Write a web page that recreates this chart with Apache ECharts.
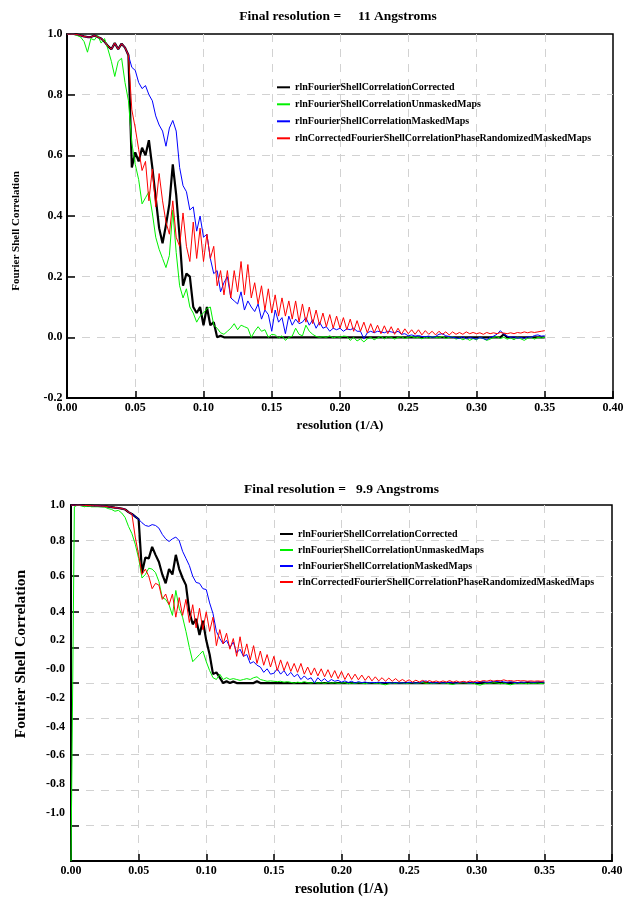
<!DOCTYPE html>
<html><head><meta charset="utf-8">
<script src="https://cdn.jsdelivr.net/npm/echarts@6/dist/echarts.min.js"></script>
<style>
html,body{margin:0;padding:0;background:#fff;width:628px;height:901px;overflow:hidden}
#c1{position:absolute;left:0;top:0;width:628px;height:450px}
#c2{position:absolute;left:0;top:450px;width:628px;height:451px}
</style>
</head><body><div id="c1"></div><div id="c2"></div>
<script>
// ---------- DATA ----------
const resolution = [
0,0.0025,0.005,0.0075,0.01,0.0125,0.015,0.0175,0.02,0.0225,
0.025,0.0275,0.03,0.0325,0.035,0.0375,0.04,0.0425,0.045,0.0475,
0.05,0.0525,0.055,0.0575,0.06,0.0625,0.065,0.0675,0.07,0.0725,
0.075,0.0775,0.08,0.0825,0.085,0.0875,0.09,0.0925,0.095,0.0975,
0.1,0.1025,0.105,0.1075,0.11,0.1125,0.115,0.1175,0.12,0.1225,
0.125,0.1275,0.13,0.1325,0.135,0.1375,0.14,0.1425,0.145,0.1475,
0.15,0.1525,0.155,0.1575,0.16,0.1625,0.165,0.1675,0.17,0.1725,
0.175,0.1775,0.18,0.1825,0.185,0.1875,0.19,0.1925,0.195,0.1975,
0.2,0.2025,0.205,0.2075,0.21,0.2125,0.215,0.2175,0.22,0.2225,
0.225,0.2275,0.23,0.2325,0.235,0.2375,0.24,0.2425,0.245,0.2475,
0.25,0.2525,0.255,0.2575,0.26,0.2625,0.265,0.2675,0.27,0.2725,
0.275,0.2775,0.28,0.2825,0.285,0.2875,0.29,0.2925,0.295,0.2975,
0.3,0.3025,0.305,0.3075,0.31,0.3125,0.315,0.3175,0.32,0.3225,
0.325,0.3275,0.33,0.3325,0.335,0.3375,0.34,0.3425,0.345,0.3475,
0.35];

const seriesNames = [
  'rlnFourierShellCorrelationCorrected',
  'rlnFourierShellCorrelationUnmaskedMaps',
  'rlnFourierShellCorrelationMaskedMaps',
  'rlnCorrectedFourierShellCorrelationPhaseRandomizedMaskedMaps'
];

const title1 = 'Final resolution =     11 Angstroms';
const title2 = 'Final resolution =   9.9 Angstroms';

// Top chart
const correctedTop = [
1.0,1.0,1.0,0.998,0.995,0.992,0.99,0.99,0.995,0.99,
0.985,0.975,0.96,0.95,0.97,0.95,0.968,0.955,0.93,0.56,
0.61,0.58,0.625,0.6,0.65,0.56,0.46,0.36,0.31,0.37,
0.44,0.57,0.47,0.33,0.17,0.21,0.2,0.1,0.08,0.1,
0.04,0.1,0.04,0.05,0.0,0.005,0,0,0,0,
0,0,0,0,0,0,0,0,0,0,
0,0,0,0,0,0,0,0,0,0,
0,0,0,0,0,0,0,0,0,0,
0,0,0,0,0,0,0,0,0,0,
0,0,0,0,0,0,0,0,0,0,
0,0,0,0,0,0,0,0,0,0,
0,0,0,0,0,0,0,0,0,0,
0,0,0,0,0,0,0,0,0.01,0,
0,0,0,0,0,0,0,0,0,0,
0];
const unmaskedTop = [
1.0,1.0,1.0,0.995,0.99,0.975,0.94,0.985,0.98,0.995,
0.97,0.985,0.95,0.91,0.86,0.91,0.92,0.84,0.78,0.64,
0.57,0.52,0.44,0.46,0.48,0.41,0.33,0.29,0.26,0.23,
0.27,0.42,0.28,0.17,0.13,0.16,0.1,0.08,0.05,0.07,
0.08,0.095,0.1,0.04,0.03,0.015,0.01,0.02,0.03,0.045,
0.025,0.04,0.035,0.03,0.0,0.02,0.035,0.02,0.025,0.0,
0.01,0.008,-0.002,0.005,-0.01,0.0,0.004,0.03,0.01,0.005,
0.04,0.02,0.01,0.003,0.0,0.002,0.0,0.005,-0.002,0.002,
0.0,0.004,0.003,-0.01,0.0,-0.012,-0.005,-0.015,-0.005,0.0,
-0.008,-0.002,0.003,-0.005,0.002,0.0,-0.006,0.0,0.002,-0.004,
0.0,0.003,-0.002,0.0,-0.005,0.001,-0.003,0.002,0.0,-0.002,
0.003,-0.004,0.0,0.002,-0.006,-0.002,-0.008,-0.003,-0.01,-0.004,
-0.008,0.0,-0.004,-0.01,-0.006,0.0,0.002,-0.004,0.0,-0.006,
-0.002,-0.008,0.0,-0.005,-0.01,-0.003,0.0,-0.006,0.0,-0.002,
0.0];
const maskedTop = [
1.0,1.0,1.0,0.998,0.995,0.992,0.99,0.99,0.995,0.99,
0.985,0.975,0.96,0.95,0.97,0.95,0.968,0.955,0.93,0.89,
0.88,0.84,0.82,0.83,0.8,0.78,0.73,0.7,0.68,0.63,
0.69,0.715,0.68,0.56,0.5,0.48,0.42,0.43,0.35,0.4,
0.33,0.34,0.26,0.21,0.22,0.15,0.18,0.2,0.13,0.12,
0.11,0.15,0.09,0.12,0.1,0.085,0.11,0.06,0.09,0.075,
0.02,0.09,0.05,0.065,0.012,0.07,0.04,0.06,0.045,0.05,
0.065,0.04,0.058,0.03,0.05,0.03,0.035,0.02,0.03,0.025,
0.03,0.02,0.028,0.025,0.03,0.02,0.02,-0.005,0.015,0.02,
0.015,0.02,0.018,0.015,0.02,0.018,0.015,0.02,0.01,0.012,
0.005,0.008,0.004,0.006,0.003,0.002,0.004,0.0,0.003,0.01,
0.012,0.005,0.003,0.0,-0.002,-0.004,0.002,-0.005,0.0,-0.003,
-0.006,0.0,-0.004,-0.008,0.0,0.004,0.01,0.022,0.01,0.004,
0.0,0.002,-0.003,0.0,-0.004,0.002,0.0,0.006,0.008,0.004,
0.005];
const phaseRandTop = [
1.0,1.0,1.0,0.998,0.995,0.992,0.99,0.99,0.995,0.99,
0.985,0.975,0.96,0.95,0.97,0.95,0.968,0.955,0.93,0.75,
0.69,0.62,0.55,0.58,0.45,0.555,0.43,0.54,0.45,0.38,
0.34,0.45,0.33,0.3,0.41,0.3,0.25,0.38,0.26,0.36,
0.25,0.34,0.26,0.3,0.17,0.22,0.14,0.22,0.13,0.22,
0.15,0.25,0.14,0.24,0.13,0.18,0.11,0.17,0.09,0.16,
0.08,0.14,0.07,0.13,0.07,0.12,0.06,0.12,0.05,0.11,
0.05,0.1,0.045,0.09,0.04,0.08,0.035,0.075,0.03,0.07,
0.03,0.065,0.025,0.06,0.02,0.055,0.02,0.05,0.015,0.045,
0.015,0.04,0.012,0.038,0.012,0.035,0.01,0.03,0.01,0.028,
0.012,0.025,0.01,0.025,0.008,0.022,0.01,0.02,0.008,0.02,
0.01,0.018,0.008,0.018,0.01,0.016,0.01,0.018,0.012,0.016,
0.012,0.015,0.01,0.016,0.012,0.015,0.012,0.016,0.014,0.012,
0.015,0.012,0.016,0.014,0.018,0.015,0.018,0.016,0.018,0.02,
0.022];

// Bottom chart
const correctedBot = [
1.0,1.0,1.0,1.0,0.998,0.997,0.996,0.995,0.995,0.994,
0.993,0.99,0.988,0.985,0.983,0.98,0.975,0.96,0.95,0.935,
0.92,0.62,0.705,0.7,0.765,0.72,0.68,0.61,0.56,0.64,
0.61,0.72,0.64,0.59,0.55,0.4,0.33,0.36,0.27,0.35,
0.24,0.16,0.05,0.06,0.03,0.0,0.01,0.0,0.008,0.0,
0,0,0,0,0,0.01,0,0,0,0,
0,0,0,0,0,0,0,0,0,0,
0,0,0,0,0,0,0,0,0,0,
0,0,0,0,0,0,0,0,0,0,
0,0,0,0,0,0,0,0,0,0,
0,0,0,0,0,0,0,0,0,0,
0,0,0,0,0,0,0,0,0,0,
0,0,0,0,0,0,0,0,0,0,
0,0,0,0,0,0,0,0,0,0,
0];
const unmaskedBot = [
-1.0,0.99,1.0,0.995,0.99,0.995,0.99,0.99,0.99,0.99,
0.988,0.98,0.975,0.965,0.97,0.955,0.93,0.88,0.84,0.78,
0.7,0.59,0.61,0.645,0.64,0.62,0.57,0.48,0.47,0.44,
0.38,0.52,0.42,0.37,0.29,0.2,0.12,0.14,0.16,0.18,
0.12,0.07,0.03,0.02,0.05,0.02,0.03,0.02,0.025,0.02,
0.015,0.02,0.025,0.02,0.03,0.035,0.02,0.015,0.01,0.012,
0.01,0.008,0.01,0.005,0.008,0.004,0.0,0.005,0.002,0.008,
0.002,0.0,0.004,0.0,0.002,-0.002,0.003,0.0,0.002,-0.002,
0.0,0.002,-0.004,0.0,-0.002,0.002,0.0,-0.004,0.0,0.002,
-0.002,0.0,-0.006,-0.01,-0.004,0.0,-0.002,0.002,0.0,-0.003,
0.0,0.002,-0.002,0.0,0.003,-0.002,0.0,-0.003,0.0,0.002,
-0.002,0.0,-0.005,-0.008,-0.002,0.0,0.002,0.0,-0.003,0.0,
-0.008,-0.012,-0.005,0.0,-0.002,0.002,0.0,-0.004,0.0,-0.006,
-0.01,-0.004,0.0,-0.002,0.0,-0.004,0.0,-0.002,0.0,-0.003,
0.0];
const maskedBot = [
1.0,1.0,1.0,1.0,0.998,0.997,0.996,0.995,0.995,0.994,
0.993,0.99,0.988,0.985,0.983,0.98,0.975,0.96,0.95,0.935,
0.92,0.9,0.885,0.88,0.89,0.885,0.87,0.835,0.81,0.795,
0.81,0.82,0.8,0.74,0.7,0.66,0.6,0.565,0.56,0.53,
0.525,0.45,0.39,0.29,0.25,0.22,0.24,0.2,0.23,0.17,
0.19,0.15,0.16,0.11,0.12,0.1,0.09,0.06,0.08,0.05,
0.055,0.08,0.05,0.07,0.04,0.06,0.035,0.05,0.02,0.04,
0.02,0.03,0.0,0.03,0.01,0.025,0.005,0.02,0.01,0.015,
0.005,0.012,0.003,0.01,0.0,0.008,0.002,0.006,0.0,0.004,
0.002,0.005,0.0,0.004,0.002,0.0,0.003,0.0,0.002,0.0,
0.005,0.002,0.0,0.002,0.008,0.012,0.004,0.0,0.002,0.004,
0.0,0.003,0.005,0.002,0.0,0.004,0.006,0.003,0.0,0.005,
0.002,0.006,0.008,0.004,0.006,0.01,0.008,0.012,0.006,0.004,
0.008,0.004,0.0,0.006,0.004,0.008,0.006,0.004,0.008,0.006,
0.006];
const phaseRandBot = [
1.0,1.0,1.0,1.0,0.998,0.997,0.996,0.995,0.995,0.994,
0.993,0.99,0.988,0.985,0.983,0.98,0.975,0.96,0.95,0.82,
0.72,0.61,0.64,0.6,0.53,0.56,0.55,0.47,0.5,0.44,
0.5,0.37,0.48,0.38,0.47,0.34,0.44,0.31,0.42,0.3,
0.4,0.29,0.37,0.21,0.3,0.22,0.28,0.19,0.25,0.15,
0.26,0.15,0.22,0.13,0.21,0.11,0.18,0.1,0.16,0.09,
0.15,0.07,0.13,0.07,0.12,0.065,0.11,0.06,0.11,0.05,
0.09,0.045,0.085,0.04,0.08,0.035,0.075,0.03,0.07,0.025,
0.065,0.02,0.055,0.02,0.05,0.018,0.045,0.015,0.04,0.012,
0.035,0.012,0.03,0.01,0.028,0.01,0.025,0.008,0.02,0.008,
0.018,0.005,0.016,0.006,0.015,0.005,0.014,0.006,0.012,0.005,
0.012,0.006,0.014,0.005,0.012,0.004,0.01,0.005,0.012,0.006,
0.012,0.008,0.014,0.01,0.016,0.01,0.015,0.012,0.018,0.012,
0.014,0.01,0.014,0.012,0.013,0.01,0.012,0.01,0.012,0.01,
0.012];

// Tick labels
const xTickLabels = ['0.00','0.05','0.10','0.15','0.20','0.25','0.30','0.35','0.40'];
const yTickLabelsTop = ['-0.2','0.0','0.2','0.4','0.6','0.8','1.0'];
const yUpperValsBot = [1.0, 0.8, 0.6, 0.4];
const yUpperLabelsBot = ['1.0','0.8','0.6','0.4'];
const yLowerValsBot = [0.2, 0.0, -0.2, -0.4, -0.6, -0.8, -1.0];
const yLowerLabelsBot = ['0.2','-0.0','-0.2','-0.4','-0.6','-0.8','-1.0'];

// ---------- STYLE / BUILD ----------
const FONT = '"Liberation Serif","Times New Roman",serif';
const colors = ['#000000', '#00f000', '#0000ff', '#ff0000'];
const widths = [2.2, 1, 1, 1];

function pairs(ys) { return resolution.map((x, i) => [x, ys[i]]); }
function labelFor(vals, labels) {
  return function (v) {
    const k = vals.findIndex(u => Math.abs(u - v) < 1e-6);
    return k >= 0 ? labels[k] : '';
  };
}
const txt = (size) => ({ fontFamily: FONT, fontWeight: 'bold', fontSize: size, color: '#000' });
const gridLine = { show: true, showMinLine: false, showMaxLine: false,
  lineStyle: { type: [8, 7], color: '#d2d2d2', width: 1 } };

function makeSeries(list) {
  return list.map((ys, k) => ({
    name: seriesNames[k], type: 'line', data: pairs(ys), showSymbol: false, symbol: 'none',
    lineStyle: { color: colors[k], width: widths[k] }, itemStyle: { color: colors[k] },
    z: 2 + k, animation: false
  }));
}

function xAxisOpt(nameSize, nameGap) {
  return {
    type: 'value', min: 0, max: 0.4, interval: 0.05,
    name: 'resolution (1/A)', nameLocation: 'middle', nameGap: nameGap, nameTextStyle: txt(nameSize),
    axisLine: { onZero: false, lineStyle: { color: '#000', width: 2 } },
    axisTick: { inside: true, length: 7, lineStyle: { color: '#000', width: 1.5 } },
    axisLabel: { margin: 4, ...txt(12), formatter: (v) => xTickLabels[Math.round(v / 0.05)] },
    splitLine: gridLine
  };
}

function legendOpt(left, top, gap, itemWidth) {
  return {
    orient: 'vertical', left: left, top: top, padding: 0, itemGap: gap,
    itemWidth: itemWidth, itemHeight: 2,
    icon: 'rect', selectedMode: false, textStyle: txt(10),
    data: seriesNames
  };
}

const chart1 = echarts.init(document.getElementById('c1'), null, { renderer: 'canvas' });
chart1.setOption({
  animation: false,
  backgroundColor: '#fff',
  title: { text: title1, left: 338, top: 10, textAlign: 'center', padding: 0, textStyle: txt(13.5) },
  grid: { left: 67, top: 34, width: 546, height: 364, show: true, borderColor: '#000', borderWidth: 1.5 },
  legend: legendOpt(277, 82.3, 7, 13),
  xAxis: xAxisOpt(13, 19),
  yAxis: {
    type: 'value', min: -0.2, max: 1.0, interval: 0.2,
    name: 'Fourier Shell Correlation', nameLocation: 'middle', nameGap: 45.5, nameRotate: 90,
    nameTextStyle: { ...txt(11), padding: [0, 30, 0, 0] },
    axisLine: { lineStyle: { color: '#000', width: 2 } },
    axisTick: { inside: true, length: 8, lineStyle: { color: '#000', width: 1.5 } },
    axisLabel: { margin: 4.5, ...txt(12), formatter: (v) => yTickLabelsTop[Math.round((v + 0.2) / 0.2)] },
    splitLine: gridLine
  },
  series: makeSeries([correctedTop, unmaskedTop, maskedTop, phaseRandTop])
});

const chart2 = echarts.init(document.getElementById('c2'), null, { renderer: 'canvas' });
chart2.setOption({
  animation: false,
  backgroundColor: '#fff',
  title: { text: title2, left: 341.5, top: 33, textAlign: 'center', padding: 0, textStyle: txt(13.5) },
  grid: { left: 71, top: 55, width: 541, height: 364, show: true, borderColor: '#000', borderWidth: 1.5 },
  legend: legendOpt(280, 79, 6, 13),
  xAxis: xAxisOpt(14, 18),
  yAxis: [{
    type: 'value', min: -1.0, max: 1.0, interval: 0.2,
    name: 'Fourier Shell Correlation', nameLocation: 'middle', nameGap: 42, nameRotate: 90,
    nameTextStyle: { ...txt(15.5), padding: [0, 0, 0, 58] },
    axisLine: { lineStyle: { color: '#000', width: 2 } },
    axisTick: { inside: true, length: 8, lineStyle: { color: '#000', width: 1.5 } },
    axisLabel: { margin: 6, ...txt(12), customValues: yUpperValsBot, formatter: labelFor(yUpperValsBot, yUpperLabelsBot) },
    splitLine: gridLine
  }, {
    type: 'value', min: -1.334, max: 1.138, position: 'left',
    axisLine: { show: false }, axisTick: { show: false }, splitLine: { show: false },
    axisLabel: { margin: 6, ...txt(12), customValues: yLowerValsBot, formatter: labelFor(yLowerValsBot, yLowerLabelsBot) }
  }],
  series: makeSeries([correctedBot, unmaskedBot, maskedBot, phaseRandBot])
});
</script>
</body></html>
